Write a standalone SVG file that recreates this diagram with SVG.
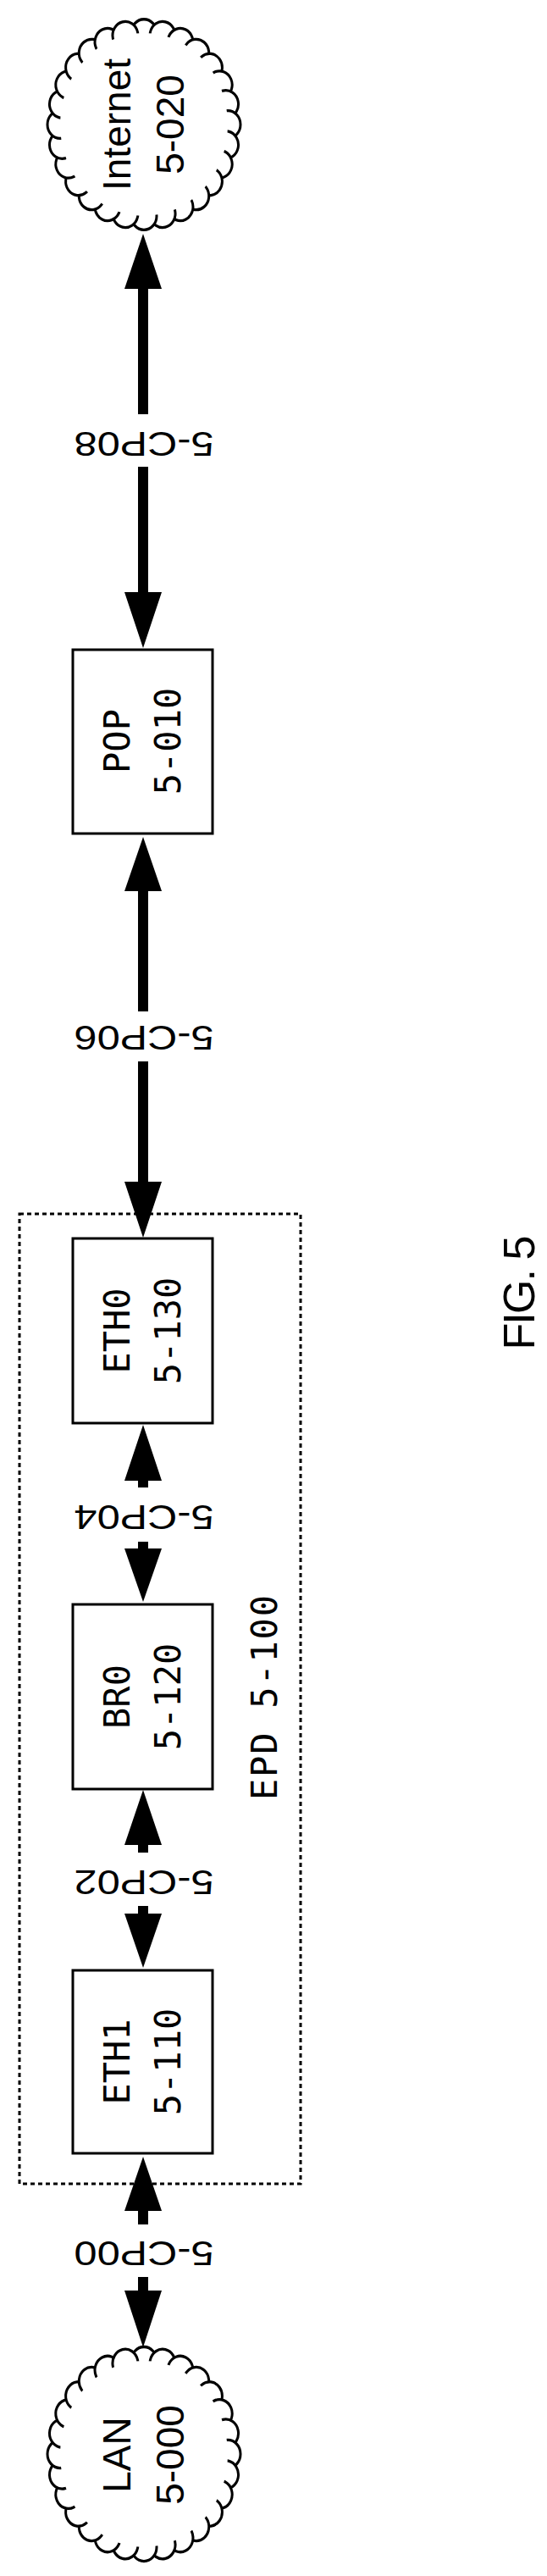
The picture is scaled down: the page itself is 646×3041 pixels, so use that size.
<svg xmlns="http://www.w3.org/2000/svg" xmlns:xlink="http://www.w3.org/1999/xlink" width="646" height="3041" viewBox="0 0 646 3041">
<style>
.box{fill:#fff;stroke:#000;stroke-width:3}
.mono{font-family:"DejaVu Sans Mono","Liberation Mono",monospace;font-size:42px;fill:#000;text-anchor:middle}
.sans{font-family:"Liberation Sans",Arial,sans-serif;fill:#000;text-anchor:middle}
.shaft{stroke:#000;stroke-width:12;fill:none}
.head{fill:#000}
.lbl{font-family:"Liberation Sans",Arial,sans-serif;font-size:40px;fill:#000;text-anchor:middle;dominant-baseline:central}
</style>
<defs>
<circle id="b" cx="0" cy="-99" r="15" fill="#fff" stroke="#000" stroke-width="3"/>
<g id="cloud">
<use xlink:href="#b" transform="rotate(0)"/><use xlink:href="#b" transform="rotate(12.857)"/><use xlink:href="#b" transform="rotate(25.714)"/><use xlink:href="#b" transform="rotate(38.571)"/><use xlink:href="#b" transform="rotate(51.429)"/><use xlink:href="#b" transform="rotate(64.286)"/><use xlink:href="#b" transform="rotate(77.143)"/><use xlink:href="#b" transform="rotate(90)"/><use xlink:href="#b" transform="rotate(102.857)"/><use xlink:href="#b" transform="rotate(115.714)"/><use xlink:href="#b" transform="rotate(128.571)"/><use xlink:href="#b" transform="rotate(141.429)"/><use xlink:href="#b" transform="rotate(154.286)"/><use xlink:href="#b" transform="rotate(167.143)"/><use xlink:href="#b" transform="rotate(180)"/><use xlink:href="#b" transform="rotate(192.857)"/><use xlink:href="#b" transform="rotate(205.714)"/><use xlink:href="#b" transform="rotate(218.571)"/><use xlink:href="#b" transform="rotate(231.429)"/><use xlink:href="#b" transform="rotate(244.286)"/><use xlink:href="#b" transform="rotate(257.143)"/><use xlink:href="#b" transform="rotate(270)"/><use xlink:href="#b" transform="rotate(282.857)"/><use xlink:href="#b" transform="rotate(295.714)"/><use xlink:href="#b" transform="rotate(308.571)"/><use xlink:href="#b" transform="rotate(321.429)"/><use xlink:href="#b" transform="rotate(334.286)"/><use xlink:href="#b" transform="rotate(347.143)"/>
<circle cx="0" cy="0" r="99" fill="#fff"/>
</g>
</defs>
<rect width="646" height="3041" fill="#fff"/>

<g id="epd">
<rect x="23" y="1433" width="332" height="1145" fill="none" stroke="#000" stroke-width="3" stroke-dasharray="5 4"/>
<text class="mono" transform="translate(327,2004) rotate(-90)" textLength="242">EPD 5-100</text>
</g>

<g id="internet">
<use xlink:href="#cloud" transform="translate(170,147) scale(1,1.09)"/>
<text class="sans" font-size="46" transform="translate(154,147) rotate(-90)">Internet</text>
<text class="sans" font-size="46" transform="translate(217,147) rotate(-90)">5-020</text>
</g>
<g id="pop">
<rect class="box" x="86" y="767" width="165" height="217"/>
<text class="mono" transform="translate(153,875) rotate(-90)">POP</text>
<text class="mono" transform="translate(213,875) rotate(-90)">5-010</text>
</g>
<g id="eth0">
<rect class="box" x="86" y="1462" width="165" height="218"/>
<text class="mono" transform="translate(153,1571) rotate(-90)">ETH0</text>
<text class="mono" transform="translate(213,1571) rotate(-90)">5-130</text>
</g>
<g id="br0">
<rect class="box" x="86" y="1894" width="165" height="218"/>
<text class="mono" transform="translate(153,2003) rotate(-90)">BR0</text>
<text class="mono" transform="translate(213,2003) rotate(-90)">5-120</text>
</g>
<g id="eth1">
<rect class="box" x="86" y="2326" width="165" height="216"/>
<text class="mono" transform="translate(153,2434) rotate(-90)">ETH1</text>
<text class="mono" transform="translate(213,2434) rotate(-90)">5-110</text>
</g>
<g id="lan">
<use xlink:href="#cloud" transform="translate(170,2897) scale(1,1.11)"/>
<text class="sans" font-size="46" transform="translate(154,2898) rotate(-90)">LAN</text>
<text class="sans" font-size="46" transform="translate(217,2898) rotate(-90)">5-000</text>
</g>

<g id="connectors">
<line class="shaft" x1="169" y1="340" x2="169" y2="489"/><line class="shaft" x1="169" y1="551" x2="169" y2="700"/>
<polygon class="head" points="169,276 147,341 191,341"/><polygon class="head" points="169,765 147,699 191,699"/>
<text class="lbl" transform="translate(170,524) rotate(180)" textLength="165" lengthAdjust="spacingAndGlyphs">5-CP08</text>

<line class="shaft" x1="169" y1="1051" x2="169" y2="1194"/><line class="shaft" x1="169" y1="1253" x2="169" y2="1396"/>
<polygon class="head" points="169,988 147,1052 191,1052"/><polygon class="head" points="169,1461 147,1395 191,1395"/>
<text class="lbl" transform="translate(170,1225) rotate(180)" textLength="165" lengthAdjust="spacingAndGlyphs">5-CP06</text>

<line class="shaft" x1="169" y1="1747" x2="169" y2="1756"/><line class="shaft" x1="169" y1="1820" x2="169" y2="1829"/>
<polygon class="head" points="169,1682 147,1748 191,1748"/><polygon class="head" points="169,1891 147,1828 191,1828"/>
<text class="lbl" transform="translate(170,1791) rotate(180)" textLength="165" lengthAdjust="spacingAndGlyphs">5-CP04</text>

<line class="shaft" x1="169" y1="2177" x2="169" y2="2187"/><line class="shaft" x1="169" y1="2250" x2="169" y2="2260"/>
<polygon class="head" points="169,2113 147,2178 191,2178"/><polygon class="head" points="169,2323 147,2259 191,2259"/>
<text class="lbl" transform="translate(170,2222) rotate(180)" textLength="165" lengthAdjust="spacingAndGlyphs">5-CP02</text>

<line class="shaft" x1="169" y1="2609" x2="169" y2="2626"/><line class="shaft" x1="169" y1="2688" x2="169" y2="2705"/>
<polygon class="head" points="169,2546 147,2610 191,2610"/><polygon class="head" points="169,2771 147,2704 191,2704"/>
<text class="lbl" transform="translate(170,2660) rotate(180)" textLength="165" lengthAdjust="spacingAndGlyphs">5-CP00</text>
</g>

<text class="sans" font-size="52" transform="translate(631,1526) rotate(-90)" textLength="135">FIG. 5</text>
</svg>
